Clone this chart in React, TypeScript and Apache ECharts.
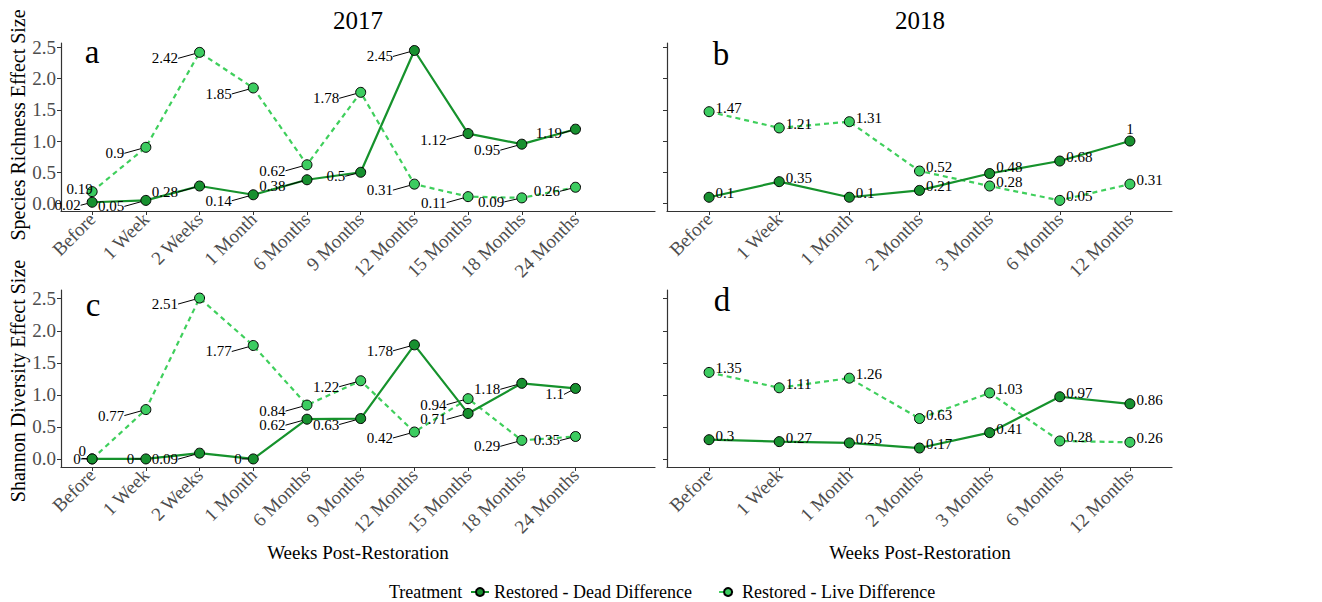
import { useEffect, useRef } from 'react';
import * as echarts from 'echarts';

const cats2017 = ['Before', '1 Week', '2 Weeks', '1 Month', '6 Months', '9 Months', '12 Months', '15 Months', '18 Months', '24 Months'];
const cats2018 = ['Before', '1 Week', '1 Month', '2 Months', '3 Months', '6 Months', '12 Months'];

const richness2017Dead = [0.02, 0.05, 0.28, 0.14, 0.38, 0.5, 2.45, 1.12, 0.95, 1.19];
const richness2017Live = [0.19, 0.9, 2.42, 1.85, 0.62, 1.78, 0.31, 0.11, 0.09, 0.26];
const richness2018Dead = [0.1, 0.35, 0.1, 0.21, 0.48, 0.68, 1];
const richness2018Live = [1.47, 1.21, 1.31, 0.52, 0.28, 0.05, 0.31];
const shannon2017Dead = [0, 0, 0.09, 0, 0.62, 0.63, 1.78, 0.71, 1.18, 1.1];
const shannon2017Live = [0, 0.77, 2.51, 1.77, 0.84, 1.22, 0.42, 0.94, 0.29, 0.35];
const shannon2018Dead = [0.3, 0.27, 0.25, 0.17, 0.41, 0.97, 0.86];
const shannon2018Live = [1.35, 1.11, 1.26, 0.63, 1.03, 0.28, 0.26];

const yTicks = [0, 0.5, 1, 1.5, 2, 2.5];
const DEAD_NAME = 'Restored - Dead Difference';
const LIVE_NAME = 'Restored - Live Difference';

const DEAD_LINE = '#16922c';
const DEAD_FILL = '#17902f';
const LIVE_LINE = '#3fcf5c';
const LIVE_FILL = '#3ccc60';
const FONT = 'Liberation Serif';
const AXIS_COLOR = '#333333';
const TICK_LABEL = '#4d4d4d';

// label nudges (styling only): key = "grid-series-index"
const labelNudge: Record<string, any> = {
  '0-d-0': { dx: 0, dy: 3 },
  '0-l-0': { dx: 12, dy: -3, noLine: true },
  '0-d-5': { dx: -4, dy: 4, noLine: true },
  '0-d-9': { dx: -2, dy: 4, noLine: true },
  '0-l-9': { dx: -4, dy: 4 },
  '0-l-8': { dx: -6, dy: 4 },
  '2-d-0': { dx: 0, dy: 0, noLine: true },
  '2-l-0': { pos: 'top' },
  '2-d-1': { dx: 0, dy: 0, noLine: true },
  '2-d-3': { dx: 0, dy: 0, noLine: true },
  '2-d-9': { dx: 0, dy: 6, noLine: true },
  '2-l-9': { dx: -4, dy: 4 },
  '1-d-6': { pos: 'top' },
  '1-d-4': { raise: 3 },
};

function mkSeries(name: string, values: number[], gi: number, dead: boolean, side: 'left' | 'right') {
  const key = (i: number) => `${gi}-${dead ? 'd' : 'l'}-${i}`;
  return {
    type: 'line',
    name,
    xAxisIndex: gi,
    yAxisIndex: gi,
    data: values.map((v, i) => {
      const n = labelNudge[key(i)];
      const item: any = { value: [i, v] };
      if (n && n.pos) item.label = { position: n.pos, offset: [0, 2], distance: 1 };
      if (n && n.raise) item.label = { offset: [0, -4 - n.raise] };
      return item;
    }),
    symbol: 'circle',
    symbolSize: 10,
    showSymbol: true,
    z: dead ? 4 : 3,
    itemStyle: { color: dead ? DEAD_FILL : LIVE_FILL, borderColor: '#000', borderWidth: 1 },
    lineStyle: { color: dead ? DEAD_LINE : LIVE_LINE, width: 2.2, type: dead ? 'solid' : [5, 4] },
    label: {
      show: true,
      position: side,
      distance: side === 'left' ? 6 : 1,
      offset: side === 'right' ? [0, -4] : [0, 0],
      formatter: (p: any) => String(p.value[1]),
      fontFamily: FONT,
      fontSize: 15,
      color: '#000',
    },
    labelLine: side === 'left' ? { show: true, lineStyle: { color: '#000', width: 1 } } : { show: false },
    labelLayout:
      side === 'left'
        ? (p: any) => {
            const n = labelNudge[key(p.dataIndex)];
            if (n && !n.pos) return { dx: n.dx, dy: n.dy };
            return { dx: -10, dy: 6 };
          }
        : undefined,
  };
}

function xAxis(gi: number, cats: string[], min: number, max: number) {
  const idx = cats.map((_, i) => i);
  return {
    type: 'value',
    gridIndex: gi,
    min,
    max,
    axisLine: { show: true, onZero: false, lineStyle: { color: AXIS_COLOR, width: 1.2 } },
    axisTick: { show: true, customValues: idx, length: 4, lineStyle: { color: AXIS_COLOR } },
    axisLabel: {
      show: true,
      customValues: idx,
      rotate: 45,
      formatter: (v: number) => cats[Math.round(v)] ?? '',
      fontFamily: FONT,
      fontSize: 19,
      color: TICK_LABEL,
      margin: 5,
    },
    splitLine: { show: false },
  };
}

function yAxis(gi: number, min: number, max: number, showLabels: boolean) {
  return {
    type: 'value',
    gridIndex: gi,
    min,
    max,
    axisLine: { show: true, onZero: false, lineStyle: { color: AXIS_COLOR, width: 1.2 } },
    axisTick: { show: true, customValues: yTicks, length: 4, lineStyle: { color: AXIS_COLOR } },
    axisLabel: {
      show: showLabels,
      customValues: yTicks,
      formatter: (v: number) => v.toFixed(1),
      fontFamily: FONT,
      fontSize: 19,
      color: TICK_LABEL,
      margin: 5,
    },
    splitLine: { show: false },
  };
}

function txt(x: number, y: number, text: string, fontSize: number, extra: any = {}) {
  return {
    type: 'text',
    x,
    y,
    ...extra,
    style: { text, fontFamily: FONT, fontSize, fill: '#000', align: 'center', verticalAlign: 'middle' },
  };
}

export default function App() {
  const ref = useRef<HTMLDivElement>(null);
  useEffect(() => {
    if (!ref.current) return;
    const chart = echarts.init(ref.current, undefined, { renderer: 'svg' });
    const option: any = {
      animation: false,
      backgroundColor: '#ffffff',
      textStyle: { fontFamily: FONT },
      grid: [
        { left: 61, top: 43, width: 594, height: 168 },
        { left: 667, top: 43, width: 505, height: 168 },
        { left: 61, top: 290, width: 594, height: 177 },
        { left: 667, top: 290, width: 505, height: 177 },
      ],
      xAxis: [
        xAxis(0, cats2017, -0.58, 10.48),
        xAxis(1, cats2018, -0.6, 6.6),
        xAxis(2, cats2017, -0.58, 10.48),
        xAxis(3, cats2018, -0.6, 6.6),
      ],
      yAxis: [
        yAxis(0, -0.12, 2.57, true),
        yAxis(1, -0.12, 2.57, false),
        yAxis(2, -0.126, 2.636, true),
        yAxis(3, -0.126, 2.636, false),
      ],
      legend: {
        left: 468,
        top: 581,
        padding: 2,
        itemWidth: 18,
        itemHeight: 10,
        itemGap: 26,
        data: [DEAD_NAME, LIVE_NAME],
        textStyle: { fontFamily: FONT, fontSize: 18, color: '#000' },
      },
      graphic: [
        txt(358, 20, '2017', 25),
        txt(920, 20, '2018', 25),
        txt(92, 52, 'a', 33),
        txt(721, 54, 'b', 33),
        txt(93, 305, 'c', 33),
        txt(722, 300, 'd', 33),
        txt(18, 125, 'Species Richness Effect Size', 20, { rotation: Math.PI / 2 }),
        txt(18, 381, 'Shannon Diversity Effect Size', 20, { rotation: Math.PI / 2 }),
        txt(358, 552, 'Weeks Post-Restoration', 19),
        txt(920, 552, 'Weeks Post-Restoration', 19),
        { type: 'text', x: 389, y: 592, style: { text: 'Treatment', fontFamily: FONT, fontSize: 18, fill: '#000', align: 'left', verticalAlign: 'middle' } },
      ],
      series: [
        mkSeries(LIVE_NAME, richness2017Live, 0, false, 'left'),
        mkSeries(DEAD_NAME, richness2017Dead, 0, true, 'left'),
        mkSeries(LIVE_NAME, richness2018Live, 1, false, 'right'),
        mkSeries(DEAD_NAME, richness2018Dead, 1, true, 'right'),
        mkSeries(LIVE_NAME, shannon2017Live, 2, false, 'left'),
        mkSeries(DEAD_NAME, shannon2017Dead, 2, true, 'left'),
        mkSeries(LIVE_NAME, shannon2018Live, 3, false, 'right'),
        mkSeries(DEAD_NAME, shannon2018Dead, 3, true, 'right'),
      ],
    };
    chart.setOption(option);
    return () => chart.dispose();
  }, []);
  return <div ref={ref} style={{ width: 1322, height: 602, position: 'absolute', left: 0, top: 0 }} />;
}
